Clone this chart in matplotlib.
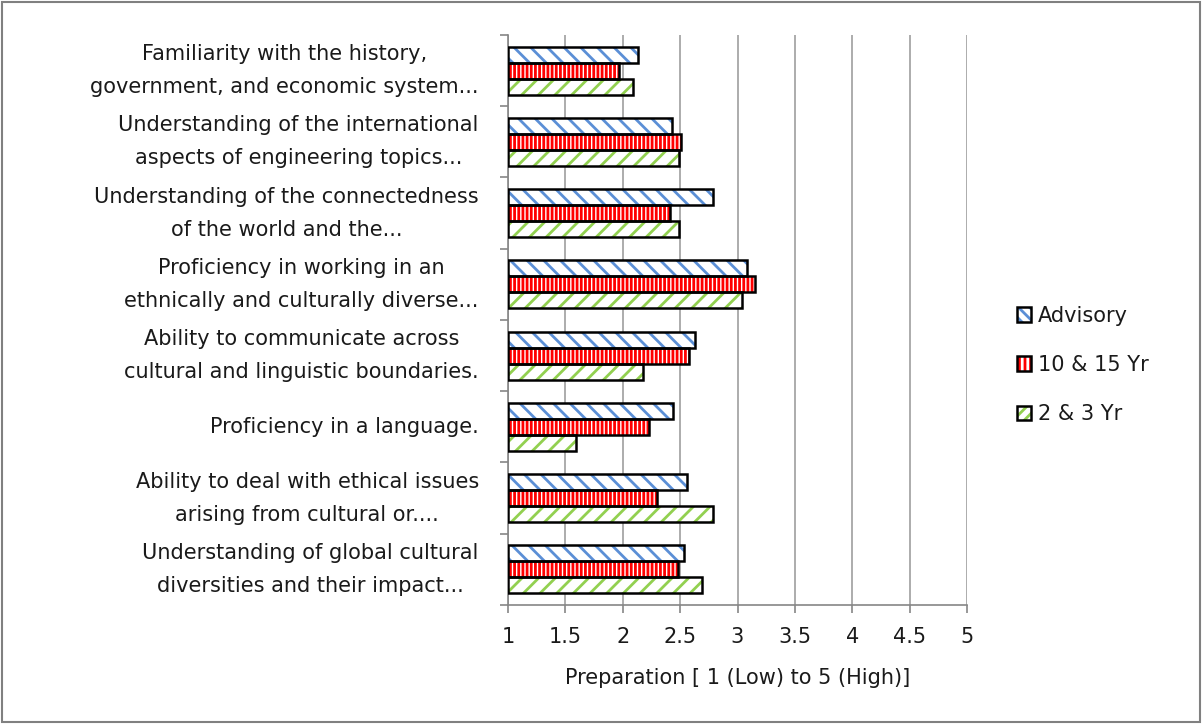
import matplotlib
matplotlib.use("Agg")
import matplotlib.pyplot as plt
from matplotlib.patches import Patch, Rectangle
from matplotlib.legend_handler import HandlerTuple
import numpy as np

categories = [
    "Familiarity with the history,\ngovernment, and economic system...",
    "Understanding of the international\naspects of engineering topics...",
    "Understanding of the connectedness\nof the world and the...",
    "Proficiency in working in an\nethnically and culturally diverse...",
    "Ability to communicate across\ncultural and linguistic boundaries.",
    "Proficiency in a language.",
    "Ability to deal with ethical issues\narising from cultural or....",
    "Understanding of global cultural\ndiversities and their impact...",
]
series_names = ["Advisory", "10 & 15 Yr", "2 & 3 Yr"]
advisory = [2.13, 2.43, 2.79, 3.08, 2.63, 2.44, 2.56, 2.53]
yr10_15 = [1.97, 2.51, 2.41, 3.15, 2.58, 2.23, 2.30, 2.48]
yr2_3 = [2.09, 2.49, 2.49, 3.04, 2.18, 1.59, 2.79, 2.69]
xticks = [1, 1.5, 2, 2.5, 3, 3.5, 4, 4.5, 5]
xtick_labels = ["1", "1.5", "2", "2.5", "3", "3.5", "4", "4.5", "5"]
xlabel = "Preparation [ 1 (Low) to 5 (High)]"

plt.rcParams['font.family'] = ['DejaVu Sans']
plt.rcParams['hatch.linewidth'] = 2.0
FS = 15
TXT = "#1a1a1a"

fig = plt.figure(figsize=(12.04, 7.24), dpi=100)
ax = fig.add_axes([508/1204, 1-605/724, (967-508)/1204, (605-35)/724])

styles = [
    dict(face="white", hatch_color="#5b8fd6", hatch="\\\\"),
    dict(face="white", hatch_color="#ff0000", hatch="||||"),
    dict(face="white", hatch_color="#92d050", hatch="//"),
]
h = 0.225
offsets = [-h, 0, h]
y = np.arange(len(categories))
data = [advisory, yr10_15, yr2_3]
for vals, st, off in zip(data, styles, offsets):
    widths = np.array(vals) - 1
    ax.barh(y + off, widths, left=1, height=h, color=st["face"],
            edgecolor=st["hatch_color"], hatch=st["hatch"], linewidth=0, zorder=3)
    ax.barh(y + off, widths, left=1, height=h, fill=False,
            edgecolor="black", linewidth=1.8, zorder=4)

ax.set_xlim(1, 5)
ax.set_ylim(len(categories) - 0.5, -0.5)
ax.set_xticks(xticks)
ax.set_xticklabels(xtick_labels, color=TXT)
ax.set_yticks(y)
ax.set_yticklabels(categories, multialignment="center", fontsize=FS,
                   linespacing=1.8, color=TXT, va="center")
ax.set_yticks(np.arange(len(categories) + 1) - 0.5, minor=True)
ax.tick_params(axis="y", which="major", length=0, pad=21)
ax.tick_params(axis="y", which="minor", length=6, color="#868686", width=1.2)
ax.tick_params(axis="x", length=6, color="#868686", width=1.2, pad=10, labelsize=FS)
ax.xaxis.grid(True, color="#a6a6a6", linewidth=1.3, zorder=0)
ax.set_axisbelow(True)
for s in ["top", "right"]:
    ax.spines[s].set_visible(False)
for s in ["left", "bottom"]:
    ax.spines[s].set_color("#868686")
    ax.spines[s].set_linewidth(1.2)
ax.set_xlabel(xlabel, fontsize=FS, labelpad=15, color=TXT)

leg_handles = []
leg_hatches = ["\\\\\\", "|||", "///"]
for st, name, lh in zip(styles, series_names, leg_hatches):
    ph = Patch(facecolor=st["face"], edgecolor=st["hatch_color"], hatch=lh, linewidth=0)
    po = Patch(fill=False, edgecolor="black", linewidth=1.8)
    leg_handles.append((ph, po))
leg = fig.legend(handles=leg_handles, labels=series_names, loc="center left",
                 bbox_to_anchor=(998/1204, 1-365/724), frameon=False,
                 fontsize=FS, handlelength=0.7, handleheight=0.7,
                 handletextpad=0.3, labelspacing=1.4,
                 handler_map={tuple: HandlerTuple(ndivide=1, pad=0)})
for t in leg.get_texts():
    t.set_color(TXT)

fig.patches.append(Rectangle((0.002, 0.003), 0.995, 0.994, transform=fig.transFigure,
                             fill=False, edgecolor="#808080", linewidth=1.5))

fig.savefig("out.png", dpi=100)
